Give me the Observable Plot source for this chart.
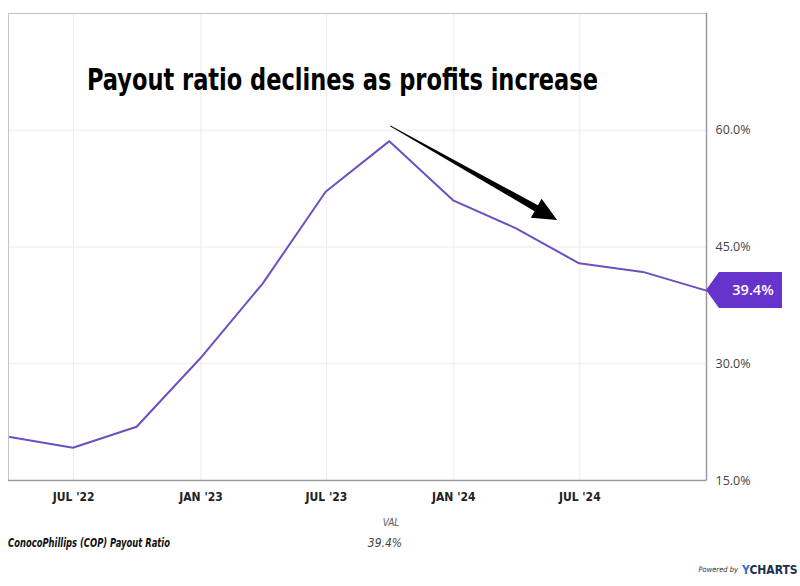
<!DOCTYPE html>
<html>
<head>
<meta charset="utf-8">
<script src="https://cdn.jsdelivr.net/npm/d3@7"></script>
<script src="https://cdn.jsdelivr.net/npm/@observablehq/plot@0.6"></script>
<style>
  html, body { margin: 0; padding: 0; background: #fff; }
  #chart { position: relative; width: 800px; height: 586px; }
</style>
</head>
<body>
<div id="chart"></div>
<script>
// ---- data ----
const quarterEnds = ["2022-03-31","2022-06-30","2022-09-30","2022-12-31","2023-03-31","2023-06-30",
                     "2023-09-30","2023-12-31","2024-03-31","2024-06-30","2024-09-30","2024-12-31"];
const payoutRatio = [20.6, 19.2, 21.9, 30.7, 40.3, 52.1, 58.6, 51.0, 47.4, 42.9, 41.8, 39.4];
const xTickDates = ["2022-07-01","2023-01-01","2023-07-01","2024-01-01","2024-07-01"];
const yTickValues = [15, 30, 45, 60];
const xDomainDates = ["2022-03-29","2024-12-31"];
const yDomainValues = [15, 75];
const titleText = "Payout ratio declines as profits increase";
const seriesName = "ConocoPhillips (COP) Payout Ratio";
const arrowFrom = {date: "2023-10-02", value: 60.5};
const arrowTo = {date: "2024-05-30", value: 48.4};

const monthNames = ["JAN","FEB","MAR","APR","MAY","JUN","JUL","AUG","SEP","OCT","NOV","DEC"];
const data = quarterEnds.map((d, i) => ({date: new Date(d), value: payoutRatio[i]}));
const last = data[data.length - 1];
const fmtPct = v => v.toFixed(1) + "%";

const lineColor = "#6e4fc0";
const flagColor = "#6633cc";
const condensed = "'Liberation Sans Narrow', 'DejaVu Sans Condensed', sans-serif";

// last-value flag label
function flagMark(index, scales) {
  const px = scales.x(last.date), py = scales.y(last.value);
  const g = d3.create("svg:g");
  g.append("path")
    .attr("d", `M${px},${py} L${px + 13},${py - 18} L${px + 76},${py - 18} L${px + 76},${py + 18} L${px + 13},${py + 18} Z`)
    .attr("fill", flagColor);
  g.append("text")
    .attr("x", px + 47).attr("y", py + 1)
    .attr("text-anchor", "middle").attr("dominant-baseline", "middle")
    .attr("fill", "#fff").attr("font-family", "'Open Sans', sans-serif")
    .attr("font-weight", "600").attr("font-size", 14.5)
    .text(fmtPct(last.value));
  return g.node();
}

// tapered annotation arrow
function arrowMark(index, scales) {
  const sx = scales.x(new Date(arrowFrom.date)), sy = scales.y(arrowFrom.value);
  const tx = scales.x(new Date(arrowTo.date)), ty = scales.y(arrowTo.value);
  const dx = tx - sx, dy = ty - sy, len = Math.hypot(dx, dy);
  const ux = dx / len, uy = dy / len, nx = -uy, ny = ux;
  const hl = 24, hw = 11;
  const hx = tx - ux * hl, hy = ty - uy * hl;
  const pts = [
    [sx + nx * 0.5, sy + ny * 0.5],
    [hx + nx * 3.4, hy + ny * 3.4],
    [hx + nx * hw, hy + ny * hw],
    [tx, ty],
    [hx - nx * hw, hy - ny * hw],
    [hx - nx * 3.4, hy - ny * 3.4],
    [sx - nx * 0.5, sy - ny * 0.5]
  ];
  const p = d3.create("svg:path")
    .attr("d", "M" + pts.map(p => p.join(",")).join("L") + "Z")
    .attr("fill", "#000");
  return p.node();
}

const plot = Plot.plot({
  width: 800,
  height: 586,
  marginLeft: 8,
  marginRight: 94,
  marginTop: 13,
  marginBottom: 106,
  style: {background: "#fff", fontFamily: "'Open Sans', sans-serif", fontSize: "12px", color: "#333"},
  x: {type: "utc", domain: xDomainDates.map(d => new Date(d))},
  y: {domain: yDomainValues},
  marks: [
    Plot.gridX(xTickDates.map(d => new Date(d)), {stroke: "#ebebeb", strokeOpacity: 1}),
    Plot.gridY(yTickValues.slice(1), {stroke: "#ebebeb", strokeOpacity: 1}),
    Plot.frame({stroke: "#c4c4c4"}),
    Plot.ruleX([new Date(xDomainDates[1])], {stroke: "#9a9a9a", strokeWidth: 1.5}),
    Plot.ruleY([yDomainValues[0]], {stroke: "#9a9a9a", strokeWidth: 1.5}),
    Plot.axisX(xTickDates.map(d => new Date(d)), {
      tickSize: 0, tickPadding: 12,
      tickFormat: d => monthNames[d.getUTCMonth()] + " '" + String(d.getUTCFullYear()).slice(2),
      fontFamily: condensed, fontWeight: "bold", fontSize: 12, fill: "#222", label: null
    }),
    Plot.axisY(yTickValues, {
      anchor: "right", tickSize: 0, tickPadding: 9,
      tickFormat: fmtPct, fontSize: 12.5, fill: "#444", label: null
    }),
    Plot.line(data, {x: "date", y: "value", stroke: lineColor, strokeWidth: 2}),
    arrowMark,
    flagMark
  ]
});

const svg = d3.select(plot);
svg.append("text")
  .attr("x", 87).attr("y", 90).attr("text-anchor", "start")
  .attr("textLength", 511).attr("lengthAdjust", "spacingAndGlyphs")
  .attr("font-family", condensed).attr("font-weight", "bold").attr("font-size", 31)
  .attr("fill", "#000").text(titleText);

svg.append("text")
  .attr("x", 391).attr("y", 523).attr("text-anchor", "middle").attr("dominant-baseline", "middle")
  .attr("font-family", condensed).attr("font-style", "italic").attr("font-size", 10).attr("fill", "#555")
  .text("VAL");
svg.append("text")
  .attr("x", 8).attr("y", 543).attr("text-anchor", "start").attr("dominant-baseline", "middle")
  .attr("textLength", 162).attr("lengthAdjust", "spacingAndGlyphs")
  .attr("font-family", condensed).attr("font-style", "italic").attr("font-weight", "bold")
  .attr("font-size", 11.5).attr("fill", "#111").text(seriesName);
svg.append("text")
  .attr("x", 385).attr("y", 543).attr("text-anchor", "middle").attr("dominant-baseline", "middle")
  .attr("font-family", condensed).attr("font-style", "italic").attr("font-size", 12).attr("fill", "#444")
  .text(fmtPct(last.value));
svg.append("text")
  .attr("x", 738).attr("y", 570).attr("text-anchor", "end").attr("dominant-baseline", "middle")
  .attr("font-family", condensed).attr("font-style", "italic").attr("font-size", 7.5).attr("fill", "#333")
  .text("Powered by");
const yc = svg.append("text")
  .attr("x", 742).attr("y", 570).attr("text-anchor", "start").attr("dominant-baseline", "middle")
  .attr("font-family", condensed).attr("font-weight", "bold").attr("font-size", 12).attr("fill", "#1d2f4f");
yc.append("tspan").attr("fill", "#2f6fdb").text("Y");
yc.append("tspan").text("CHARTS");

document.getElementById("chart").appendChild(plot);
</script>
</body>
</html>
